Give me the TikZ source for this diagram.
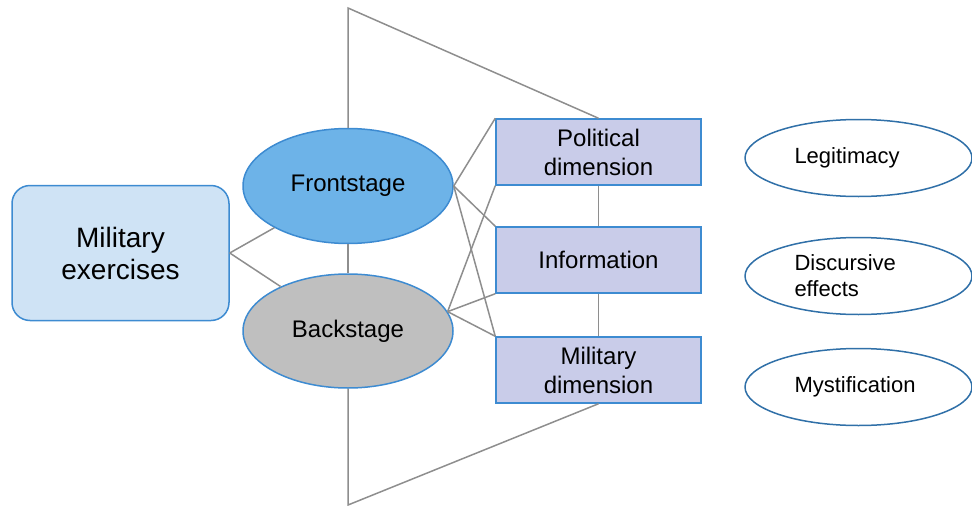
\documentclass[tikz,border=0pt]{standalone}
\usepackage{fontspec}
\setmainfont{Liberation Sans}
\usepackage{xcolor}
\usetikzlibrary{shapes.geometric}
\definecolor{exerfill}{HTML}{CFE3F5}
\definecolor{frontfill}{HTML}{6DB3E8}
\definecolor{backfill}{HTML}{BFBFBF}
\definecolor{dimfill}{HTML}{C9CCE9}
\definecolor{nodeline}{HTML}{3D8BD1}
\definecolor{effectline}{HTML}{3070A8}
\definecolor{linkgray}{HTML}{8E8E8E}
\tikzset{
    basenode/.style = {align=center, inner sep=0pt, text centered, line width=1.5pt},
    root_node/.style = {basenode, rectangle, rounded corners=18pt, draw=nodeline, fill=exerfill, minimum width=217pt, minimum height=135pt, font=\fontsize{28}{32}\selectfont},
    front_node/.style = {basenode, ellipse, draw=nodeline, fill=frontfill, minimum width=210pt, minimum height=115pt, font=\fontsize{24}{29}\selectfont},
    back_node/.style = {basenode, ellipse, draw=nodeline, fill=backfill, minimum width=210pt, minimum height=114pt, font=\fontsize{24}{29}\selectfont},
    dim_node/.style = {basenode, rectangle, draw=nodeline, fill=dimfill, minimum width=205pt, minimum height=66pt, font=\fontsize{24}{29}\selectfont},
    effect_node/.style = {basenode, ellipse, draw=effectline, fill=white, minimum width=227pt, minimum height=77pt, text width=128pt, align=left, font=\fontsize{22}{26}\selectfont},
    link/.style = {draw=linkgray, line width=1.5pt}
}
\begin{document}
\begin{tikzpicture}[x=1pt, y=-1pt]
    \useasboundingbox (0,0) rectangle (972,506);

    \node [root_node] (exer) at (120.5,253) {Military\\exercises};
    \node [front_node] (front) at (348,186) {Frontstage};
    \node [back_node] (back) at (348,331) {Backstage};

    \node [dim_node] (pol) at (598.5,152) {Political\\dimension};
    \node [dim_node] (info) at (598.5,260) {Information};
    \node [dim_node] (mil) at (598.5,370) {Military\\dimension};

    \node [effect_node] (legit) at (858.5,158) {Legitimacy};
    \node [effect_node] (disc) at (858.5,276) {Discursive\\effects};
    \node [effect_node] (myst) at (858.5,387) {Mystification};

    \coordinate (apex_top) at (348,8);
    \coordinate (apex_bot) at (348,505);

    % frame lines
    \draw [link] (pol.north) -- (apex_top) -- (front.north);
    \draw [link] (front.south) -- (back.north);
    \draw [link] (back.south) -- (apex_bot) -- (mil.south);

    % stage links
    \draw [link] (exer.east) -- (front);
    \draw [link] (exer.east) -- (back);
    \foreach \d in {pol, info, mil}
        \draw [link] (front.east) -- (\d.north west);
    \draw [link] (back.11) -- (pol.south west);
    \draw [link] (back.11) -- (info.south west);
    \draw [link] (back.11) -- (mil.north west);

    \draw [link] (pol.south) -- (info.north);
    \draw [link] (info.south) -- (mil.north);
\end{tikzpicture}
\end{document}
